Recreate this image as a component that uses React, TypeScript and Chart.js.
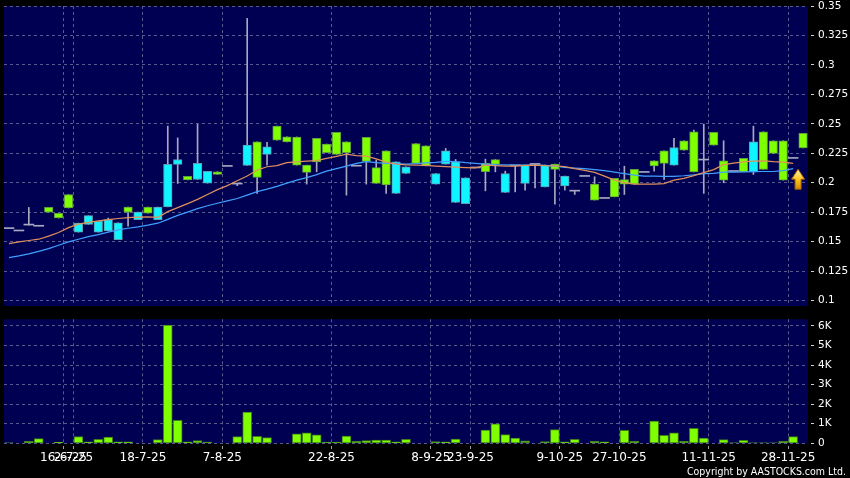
import React, { useEffect, useRef } from 'react';
import { Chart, registerables } from 'chart.js';
Chart.register(...registerables);

// ---------- data ----------
const opens = [
  0.161, 0.159, 0.164, 0.163, 0.175, 0.170, 0.1785, 0.1657, 0.172, 0.1672,
  0.1686, 0.166, 0.175, 0.175, 0.1742, 0.1793, 0.2155, 0.2197, 0.2024, 0.2164,
  0.2096, 0.207, 0.2138, 0.1988, 0.2319, 0.2045, 0.2305, 0.236, 0.2347, 0.2149,
  0.2087, 0.2177, 0.2254, 0.224, 0.2254, 0.214, 0.2181, 0.1994, 0.1982, 0.2177,
  0.2135, 0.2164, 0.2143, 0.2078, 0.2271, 0.2177, 0.2041, 0.2125, 0.2093, 0.2155,
  0.2078, 0.2143, 0.2149, 0.2155, 0.2149, 0.2113, 0.2056, 0.1928, 0.2053, 0.1852,
  0.1866, 0.188, 0.1988, 0.1988, 0.2087, 0.2143, 0.2164, 0.2299, 0.2277, 0.2092,
  0.2192, 0.2319, 0.2022, 0.2095, 0.2092, 0.2347, 0.2113, 0.2249, 0.2022, 0.2206,
  0.2296,
];
const highs = [
  0.161, 0.159, 0.179, 0.163, 0.179, 0.174, 0.190, 0.1657, 0.172, 0.1672,
  0.170, 0.166, 0.1793, 0.175, 0.1793, 0.1793, 0.248, 0.238, 0.2053, 0.2495,
  0.2096, 0.2093, 0.2138, 0.1988, 0.3395, 0.2347, 0.2342, 0.248, 0.239, 0.2388,
  0.2149, 0.2376, 0.2328, 0.2427, 0.2347, 0.214, 0.2385, 0.2192, 0.2271, 0.2177,
  0.2135, 0.2333, 0.2313, 0.2078, 0.2291, 0.2197, 0.2041, 0.2125, 0.22, 0.2197,
  0.2098, 0.2143, 0.2149, 0.2155, 0.2149, 0.2158, 0.2056, 0.1928, 0.2053, 0.205,
  0.1866, 0.2036, 0.214, 0.2113, 0.2087, 0.2186, 0.2271, 0.2376, 0.2356, 0.2447,
  0.2497, 0.2427, 0.2356, 0.2095, 0.2206, 0.248, 0.2432, 0.2356, 0.2356, 0.2206,
  0.2418,
];
const lows = [
  0.161, 0.159, 0.164, 0.163, 0.175, 0.170, 0.1785, 0.158, 0.1646, 0.158,
  0.159, 0.1516, 0.163, 0.1686, 0.1742, 0.1686, 0.1795, 0.1994, 0.2024, 0.2027,
  0.1996, 0.207, 0.2138, 0.1975, 0.2147, 0.1909, 0.2149, 0.236, 0.2347, 0.2149,
  0.1988, 0.2092, 0.2254, 0.224, 0.1894, 0.214, 0.1988, 0.1994, 0.1909, 0.1909,
  0.2078, 0.2164, 0.2143, 0.1988, 0.2158, 0.1832, 0.1821, 0.2125, 0.1931, 0.2092,
  0.1917, 0.1922, 0.1937, 0.1956, 0.1965, 0.1818, 0.1937, 0.19, 0.2053, 0.1852,
  0.1866, 0.188, 0.19, 0.1988, 0.2087, 0.2098, 0.2027, 0.2149, 0.2277, 0.2092,
  0.1909, 0.2319, 0.1999, 0.2095, 0.2092, 0.207, 0.2113, 0.2249, 0.2022, 0.2206,
  0.2296,
];
const closes = [
  0.161, 0.159, 0.164, 0.163, 0.179, 0.174, 0.190, 0.158, 0.1646, 0.158,
  0.159, 0.1516, 0.1793, 0.1686, 0.1793, 0.1686, 0.1795, 0.2155, 0.2053, 0.2027,
  0.1996, 0.2093, 0.2138, 0.1988, 0.2147, 0.2347, 0.224, 0.248, 0.239, 0.2388,
  0.2149, 0.2376, 0.2328, 0.2427, 0.2347, 0.214, 0.2385, 0.2129, 0.2271, 0.1909,
  0.2078, 0.2333, 0.2313, 0.1988, 0.2158, 0.1832, 0.1821, 0.2125, 0.2164, 0.2197,
  0.1917, 0.2143, 0.1994, 0.2155, 0.1965, 0.2158, 0.1973, 0.1928, 0.2053, 0.1988,
  0.1866, 0.2036, 0.2027, 0.2113, 0.2087, 0.2186, 0.2271, 0.2149, 0.2356, 0.2432,
  0.2192, 0.2427, 0.2186, 0.2095, 0.2206, 0.2092, 0.2432, 0.2356, 0.2356, 0.2206,
  0.2418,
];
const maShort = [
  0.1482, 0.1497, 0.1509, 0.1520, 0.1546, 0.1577, 0.1618, 0.1648, 0.1663, 0.1676,
  0.1687, 0.1696, 0.1703, 0.1707, 0.1709, 0.1706, 0.1754, 0.1788, 0.1822, 0.1858,
  0.1899, 0.1941, 0.1975, 0.2017, 0.2056, 0.2107, 0.2135, 0.2145, 0.2170, 0.2177,
  0.2183, 0.2187, 0.2206, 0.2224, 0.2243, 0.2230, 0.2226, 0.2202, 0.2175, 0.2158,
  0.2151, 0.2149, 0.2147, 0.2141, 0.2136, 0.2132, 0.2128, 0.2125, 0.2149, 0.2145,
  0.2141, 0.2141, 0.2147, 0.2149, 0.2145, 0.2143, 0.2136, 0.2119, 0.2104, 0.2087,
  0.2056, 0.2022, 0.2000, 0.1988, 0.1988, 0.1988, 0.1992, 0.2022, 0.2036, 0.2060,
  0.2085, 0.2111, 0.2153, 0.2166, 0.2177, 0.2183, 0.2185, 0.2179, 0.2175, 0.2164,
  null,
];
const maLong = [
  0.1363, 0.1378, 0.1395, 0.1417, 0.1440, 0.1469, 0.1497, 0.1520, 0.1542, 0.1559,
  0.1580, 0.1599, 0.1613, 0.1625, 0.1639, 0.1656, 0.1688, 0.1722, 0.1750, 0.1780,
  0.1804, 0.1825, 0.1846, 0.1866, 0.1894, 0.1924, 0.1945, 0.1969, 0.1996, 0.2022,
  0.2043, 0.2068, 0.2098, 0.2119, 0.2141, 0.2164, 0.2179, 0.2170, 0.2164, 0.2162,
  0.2158, 0.2162, 0.2168, 0.2173, 0.2181, 0.2180, 0.2170, 0.2164, 0.2158, 0.2153,
  0.2151, 0.2149, 0.2149, 0.2149, 0.2147, 0.2141, 0.2130, 0.2124, 0.2119, 0.2111,
  0.2102, 0.2090, 0.2077, 0.2064, 0.2056, 0.2056, 0.2054, 0.2054, 0.2059, 0.2066,
  0.2077, 0.2079, 0.2090, 0.2090, 0.2091, 0.2093, 0.2095, 0.2095, 0.2102, 0.2119,
  null,
];
const volumes = [
  30, 0, 100, 240, 0, 50, 0, 340, 70, 200,
  320, 70, 70, 0, 0, 190, 6050, 1180, 70, 140,
  60, 0, 0, 340, 1590, 360, 290, 0, 0, 480,
  530, 430, 60, 60, 375, 100, 140, 170, 170, 70,
  200, 0, 0, 85, 70, 220, 0, 0, 680, 1000,
  440, 270, 120, 0, 85, 700, 70, 200, 0, 100,
  70, 0, 665, 100, 0, 1140, 410, 530, 100, 770,
  270, 0, 190, 15, 150, 15, 15, 15, 100, 340,
  0,
];
const tickIndex = [6, 7, 14, 22, 33, 43, 47, 56, 62, 71, 79];
const tickText = ['16-6-25', '2-7-25', '18-7-25', '7-8-25', '22-8-25', '8-9-25', '23-9-25', '9-10-25', '27-10-25', '11-11-25', '28-11-25'];
const priceTicks = [0.1, 0.125, 0.15, 0.175, 0.2, 0.225, 0.25, 0.275, 0.3, 0.325, 0.35];
const volumeTicks = [0, 1000, 2000, 3000, 4000, 5000, 6000];
const COPYRIGHT = 'Copyright by AASTOCKS.com Ltd.';

// ---------- derived ----------
const xLabels = opens.map((_, i) => {
  const k = tickIndex.indexOf(i);
  return k >= 0 ? tickText[k] : '';
});
const bodies = opens.map((o, i) => (o === closes[i] ? null : [Math.min(o, closes[i]), Math.max(o, closes[i])]));
const dojis = opens.map((o, i) => (o === closes[i] ? [o, o] : null));
const wicks = highs.map((h, i) => (h > lows[i] ? [lows[i], h] : null));

const NAVY = '#000052';
const GRID = '#5a5a8e';
const GREEN = '#80ff00';
const GREEN_EDGE = '#5e9e3e';
const CYAN = '#10f4ff';
const CYAN_EDGE = '#5e9eae';
const GREY = '#a8a8c0';
const ORANGE = '#e0905c';
const BLUE = '#40a0ff';

const bodyFill = opens.map((o, i) => (closes[i] > o ? GREEN : CYAN));
const bodyEdge = opens.map((o, i) => (closes[i] > o ? GREEN_EDGE : CYAN_EDGE));
const volData = volumes.map((v) => (v > 0 ? v : null));

Chart.defaults.font.family = 'DejaVu Sans';
Chart.defaults.color = '#ffffff';

const navyBg = {
  id: 'navyBg',
  beforeDraw(chart: any) {
    const { ctx, chartArea: a } = chart;
    ctx.save();
    ctx.fillStyle = NAVY;
    ctx.fillRect(a.left, a.top, a.right - a.left, a.bottom - a.top);
    ctx.restore();
  },
};

const xGridColor = (ctx: any) => (ctx.type === 'tick' && xLabels[ctx.index] ? GRID : 'rgba(0,0,0,0)');
const xTickColor = (ctx: any) => (ctx.type === 'tick' && xLabels[ctx.index] ? '#a0a0a0' : 'rgba(0,0,0,0)');

const arrowPlugin = {
  id: 'arrow',
  afterDatasetsDraw(chart: any) {
    const xs = chart.scales.x;
    const ys = chart.scales.y;
    let last = maLong.length - 1;
    while (last > 0 && maLong[last] == null) last--;
    const x = (xs.getPixelForValue(last) + xs.getPixelForValue(last + 1)) / 2;
    const tip = ys.getPixelForValue(maLong[last] as number) + 0.5;
    const ctx = chart.ctx;
    ctx.save();
    const g = ctx.createLinearGradient(0, tip, 0, tip + 20);
    g.addColorStop(0, '#fff4b0');
    g.addColorStop(0.5, '#ffc820');
    g.addColorStop(1, '#d08a00');
    ctx.beginPath();
    ctx.moveTo(x, tip);
    ctx.lineTo(x + 6.5, tip + 10);
    ctx.lineTo(x + 3, tip + 10);
    ctx.lineTo(x + 3, tip + 20);
    ctx.lineTo(x - 3, tip + 20);
    ctx.lineTo(x - 3, tip + 10);
    ctx.lineTo(x - 6.5, tip + 10);
    ctx.closePath();
    ctx.fillStyle = g;
    ctx.fill();
    ctx.strokeStyle = '#a86a00';
    ctx.lineWidth = 1;
    ctx.stroke();
    ctx.restore();
  },
};

const copyrightPlugin = {
  id: 'copyright',
  afterDraw(chart: any) {
    const ctx = chart.ctx;
    ctx.save();
    ctx.font = '11px "DejaVu Sans"';
    ctx.fillStyle = '#ffffff';
    ctx.textAlign = 'right';
    ctx.textBaseline = 'alphabetic';
    ctx.fillText(COPYRIGHT, 846, chart.height - 3, 159);
    ctx.restore();
  },
};

export default function App() {
  const r1 = useRef<HTMLCanvasElement>(null);
  const r2 = useRef<HTMLCanvasElement>(null);

  useEffect(() => {
    document.body.style.margin = '0';
    const c1 = new Chart(r1.current as HTMLCanvasElement, {
      type: 'bar',
      data: {
        labels: xLabels,
        datasets: [
          { type: 'line', data: maShort, borderColor: ORANGE, borderWidth: 1.2, pointRadius: 0, tension: 0, order: 0 } as any,
          { type: 'line', data: maLong, borderColor: BLUE, borderWidth: 1.2, pointRadius: 0, tension: 0, order: 1 } as any,
          { type: 'bar', data: bodies, backgroundColor: bodyFill, borderColor: bodyEdge, borderWidth: 1, borderSkipped: false, barThickness: 8.5, grouped: false, order: 2 } as any,
          { type: 'bar', data: dojis, backgroundColor: GREY, borderWidth: 0, barThickness: 10, minBarLength: 1, grouped: false, order: 3 } as any,
          { type: 'bar', data: wicks, backgroundColor: GREY, borderWidth: 0, barThickness: 1, grouped: false, order: 4 } as any,
        ],
      },
      options: {
        responsive: false,
        animation: false,
        events: [],
        layout: { padding: { left: 4, top: 6, right: 0, bottom: 0 } },
        plugins: { legend: { display: false }, tooltip: { enabled: false } },
        scales: {
          x: {
            type: 'category',
            offset: true,
            grid: { offset: true, color: xGridColor, drawTicks: false, lineWidth: 1 },
            border: { display: false, dash: [3, 3] },
            ticks: { display: false, autoSkip: false },
            afterFit(s: any) { s.height = 0; },
          },
          y: {
            position: 'right',
            min: 0.0953,
            max: 0.35,
            afterBuildTicks(s: any) { s.ticks = priceTicks.map((v) => ({ value: v })); },
            grid: { color: GRID, tickLength: 6, tickColor: '#d0d0d0', tickBorderDash: [0, 3, 3, 50] },
            border: { display: false, dash: [3, 3] },
            ticks: { color: '#ffffff', font: { size: 10.5 }, padding: 4, callback: (v: any) => String(Number(Number(v).toFixed(3))) },
            afterFit(s: any) { s.width = 42; s.paddingTop = 0; s.paddingBottom = 0; },
          },
        },
      } as any,
      plugins: [navyBg, arrowPlugin],
    });

    const c2 = new Chart(r2.current as HTMLCanvasElement, {
      type: 'bar',
      data: {
        labels: xLabels,
        datasets: [
          { data: volData, backgroundColor: GREEN, borderColor: '#3e7a1e', borderWidth: 1, borderSkipped: false, barThickness: 9, grouped: false } as any,
        ],
      },
      options: {
        responsive: false,
        animation: false,
        events: [],
        layout: { padding: { left: 4, top: 9.3, right: 0, bottom: 0 } },
        plugins: { legend: { display: false }, tooltip: { enabled: false } },
        scales: {
          x: {
            type: 'category',
            offset: true,
            grid: { offset: true, color: xGridColor, tickColor: xTickColor, tickLength: 6, tickBorderDash: [0, 3, 3, 50] },
            border: { display: false, dash: [3, 3] },
            ticks: {
              color: '#ffffff', font: { size: 12 }, padding: 1, autoSkip: false, maxRotation: 0, minRotation: 0,
              labelOffset: -5, callback: (_v: any, i: number) => xLabels[i],
            },
            afterFit(s: any) { s.height = 34.7; },
          },
          y: {
            position: 'right',
            min: 0,
            max: 6340,
            afterBuildTicks(s: any) { s.ticks = volumeTicks.map((v) => ({ value: v })); },
            grid: { color: GRID, tickLength: 6, tickColor: '#d0d0d0', tickBorderDash: [0, 3, 3, 50] },
            border: { display: false, dash: [3, 3] },
            ticks: { color: '#ffffff', font: { size: 10.5 }, padding: 4, callback: (v: any) => (v === 0 ? '0' : v / 1000 + 'K') },
            afterFit(s: any) { s.width = 42; s.paddingTop = 0; s.paddingBottom = 0; },
          },
        },
      } as any,
      plugins: [navyBg, copyrightPlugin],
    });

    return () => {
      c1.destroy();
      c2.destroy();
    };
  }, []);

  return (
    <div style={{ position: 'absolute', left: 0, top: 0, width: 850, height: 478, background: '#000', overflow: 'hidden' }}>
      <canvas ref={r1} width={850} height={306} style={{ position: 'absolute', left: 0, top: 0 }} />
      <canvas ref={r2} width={850} height={168} style={{ position: 'absolute', left: 0, top: 310 }} />
    </div>
  );
}
